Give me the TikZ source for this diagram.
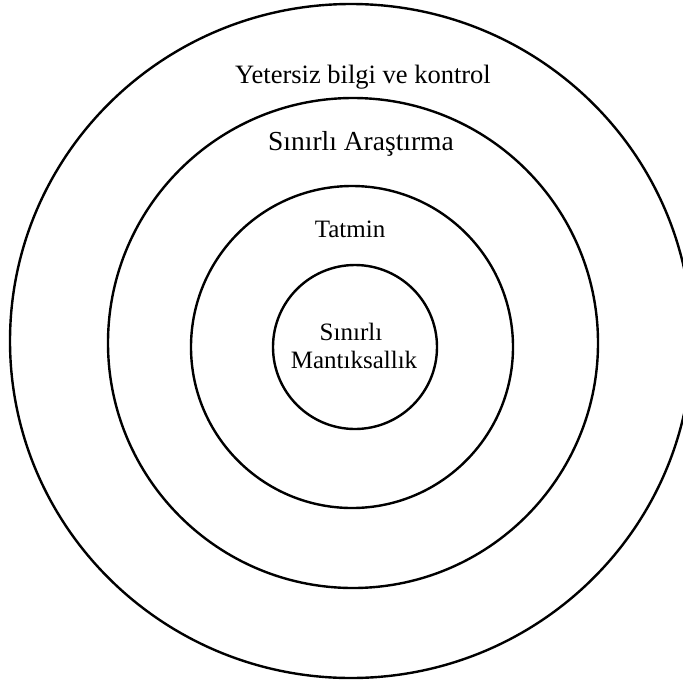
\documentclass[tikz,border=0pt]{standalone}
\usepackage{fontspec}
\setmainfont{Liberation Serif}
\usetikzlibrary{shapes.geometric}
\begin{document}
\begin{tikzpicture}[x=1pt,y=-1pt,
  ring/.style={draw=black, line width=2.4pt, inner sep=0pt, outer sep=0pt},
  lbl/.style={font=\fontsize{25}{28}\selectfont, inner sep=0pt, anchor=base}]
\useasboundingbox (0,0) rectangle (683,681);
\clip (0,0) rectangle (683,681);
\node[ring, ellipse, minimum width=682pt, minimum height=674pt] (outer) at (351,341) {};
\node[ring, circle, minimum size=490pt] (second) at (353,343) {};
\node[ring, circle, minimum size=322pt] (third) at (352,347) {};
\node[ring, circle, minimum size=164pt] (inner) at (355,347) {};
\node[lbl, font=\fontsize{26.5}{30}\selectfont] (t1) at (363,83) {Yetersiz bilgi ve kontrol};
\node[lbl, font=\fontsize{27.5}{30}\selectfont] (t2) at (361,150) {Sınırlı Araştırma};
\node[lbl] (t3) at (350,237) {Tatmin};
\node[lbl] (t4) at (351,340) {Sınırlı};
\node[lbl] (t5) at (354,368) {Mantıksallık};
\end{tikzpicture}
\end{document}
